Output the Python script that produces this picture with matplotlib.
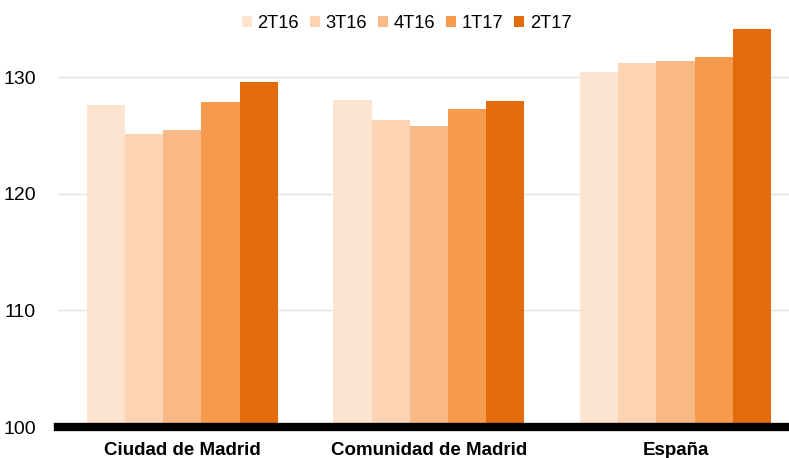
import matplotlib.pyplot as plt
import numpy as np

plt.rcParams['font.family'] = ['Liberation Sans', 'DejaVu Sans']

regions = ['Ciudad de Madrid', 'Comunidad de Madrid', 'España']
quarters = ['2T16', '3T16', '4T16', '1T17', '2T17']
colors = ['#FDE4D1', '#FCD3B3', '#F9B986', '#F69B4E', '#E46B0C']

v_2t16 = [127.6, 128.0, 130.4]
v_3t16 = [125.1, 126.3, 131.2]
v_4t16 = [125.45, 125.8, 131.35]
v_1t17 = [127.85, 127.25, 131.75]
v_2t17 = [129.6, 127.95, 134.1]
series = [v_2t16, v_3t16, v_4t16, v_1t17, v_2t17]

fig = plt.figure(figsize=(7.89, 4.58), dpi=100)
ax = fig.add_axes([58 / 789, 31 / 458, 731 / 789, 427 / 458])

x = np.arange(len(regions))
w = 0.155
for i, (q, vals) in enumerate(zip(quarters, series)):
    ax.bar(x + (i - 2) * w, np.array(vals) - 100, bottom=100, width=w,
           color=colors[i], label=q, zorder=2)

ax.set_ylim(100, 136.6)
ax.set_xlim(-0.504, 2.46)
ax.set_yticks([100, 110, 120, 130])
ax.yaxis.grid(True, color='#E3E3E3', linewidth=1, zorder=0)
ax.set_xticks(x)
ax.set_xticklabels(regions, fontsize=13.5, fontweight='bold')
ax.tick_params(axis='x', length=0, pad=11)
ax.tick_params(axis='y', length=0, labelsize=14, pad=16)
for s in ['top', 'right', 'left']:
    ax.spines[s].set_visible(False)
ax.spines['bottom'].set_linewidth(6)
ax.spines['bottom'].set_zorder(3)

ax.legend(loc='center', bbox_to_anchor=(0.477, 0.944), ncol=5, frameon=False,
          fontsize=13.2, handlelength=0.55, handleheight=0.55, handletextpad=0.3,
          columnspacing=0.6)

fig.savefig('out.png', dpi=100)
